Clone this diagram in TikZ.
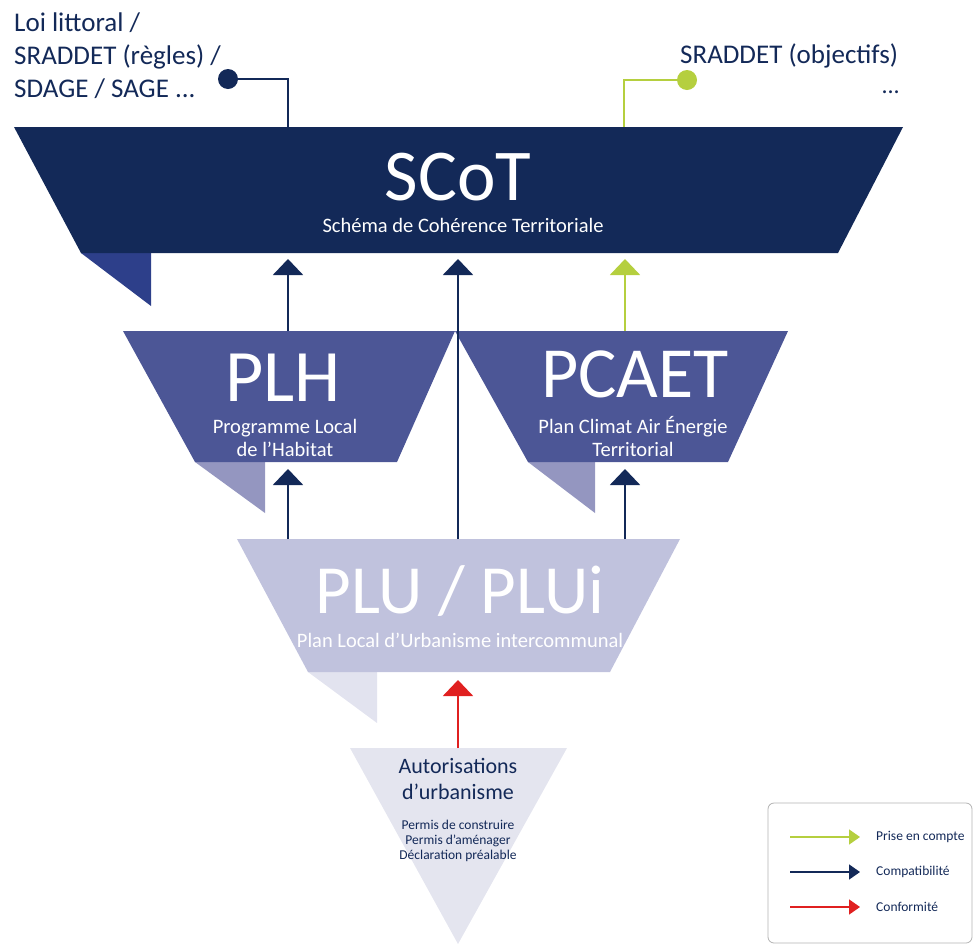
\documentclass[tikz,border=0pt]{standalone}
\usepackage{fontspec}
\setmainfont{Carlito}
\usetikzlibrary{arrows.meta}
\definecolor{navy}{RGB}{19,41,88}
\definecolor{scotflap}{RGB}{45,63,138}
\definecolor{midblue}{RGB}{76,86,150}
\definecolor{midflap}{RGB}{148,150,192}
\definecolor{paleblue}{RGB}{192,194,221}
\definecolor{paleflap}{RGB}{226,227,239}
\definecolor{autfill}{RGB}{228,229,239}
\definecolor{limegreen}{RGB}{181,207,63}
\definecolor{redarrow}{RGB}{224,32,32}

\begin{document}
\begin{tikzpicture}[x=1pt,y=-1pt,
  link/.style={line width=2pt},
  bigtip/.style={-{Triangle[length=16pt,width=30pt]}},
  smalltip/.style={line width=1.5pt,-{Triangle[length=11pt,width=15pt]}},
  title/.style={text=white,inner sep=0pt,anchor=base},
  sub/.style={text=white,inner sep=0pt,align=center,font=\fontsize{20.5}{23}\selectfont},
  legtext/.style={text=navy,anchor=west,inner sep=0pt,font=\fontsize{13.5}{14}\selectfont}]
\useasboundingbox (0,0) rectangle (978,946);

% SCoT
\coordinate (S1) at (14,127);
\coordinate (S2) at (903,127);
\coordinate (S3) at (838,253);
\coordinate (S4) at (81,253);
\coordinate (S5) at (151,253);
\coordinate (S6) at (151,306);
\fill[scotflap] (S4) -- (S5) -- (S6) -- cycle;
\fill[navy] (S1) -- (S2) -- (S3) -- (S4) -- cycle;

% PLH
\coordinate (H1) at (123,331);
\coordinate (H2) at (455,331);
\coordinate (H3) at (397,462);
\coordinate (H4) at (195,462);
\coordinate (H5) at (265,462);
\coordinate (H6) at (265,513);
\fill[midflap] (H4) -- (H5) -- (H6) -- cycle;
\fill[midblue] (H1) -- (H2) -- (H3) -- (H4) -- cycle;

% PCAET
\coordinate (P1) at (455,331);
\coordinate (P2) at (788,331);
\coordinate (P3) at (728,462);
\coordinate (P4) at (528,462);
\coordinate (P5) at (595,462);
\coordinate (P6) at (595,513);
\fill[midflap] (P4) -- (P5) -- (P6) -- cycle;
\fill[midblue] (P1) -- (P2) -- (P3) -- (P4) -- cycle;

% PLU / PLUi
\coordinate (U1) at (237,539);
\coordinate (U2) at (680,539);
\coordinate (U3) at (610,672);
\coordinate (U4) at (308,672);
\coordinate (U5) at (377,672);
\coordinate (U6) at (377,723);
\fill[paleflap] (U4) -- (U5) -- (U6) -- cycle;
\fill[paleblue] (U1) -- (U2) -- (U3) -- (U4) -- cycle;

% Autorisations
\coordinate (A1) at (350,748);
\coordinate (A2) at (567,748);
\coordinate (A3) at (458,944);
\fill[autfill] (A1) -- (A2) -- (A3) -- cycle;

% texts
\node[title,font=\fontsize{73}{73}\selectfont] (scot) at (458,200) {SCoT};
\node[sub] (scotsub) at (463,225) {Schéma de Cohérence Territoriale};
\node[title,font=\fontsize{74}{74}\selectfont] (plh) at (283,401) {PLH};
\node[sub] (plhsub) at (285,438) {Programme Local\\de l’Habitat};
\node[title,font=\fontsize{72}{72}\selectfont] (pcaet) at (635,397) {PCAET};
\node[sub] (pcaetsub) at (633,437) {Plan Climat Air Énergie\\Territorial};
\node[title,font=\fontsize{69}{69}\selectfont] (plu) at (460,613) {PLU / PLUi};
\node[sub] (plusub) at (460,640) {Plan Local d’Urbanisme intercommunal};
\node[text=navy,inner sep=0pt,align=center,font=\fontsize{22}{26}\selectfont] (aut) at (458,779) {Autorisations\\d’urbanisme};
\node[text=navy,inner sep=0pt,align=center,font=\fontsize{13.5}{15}\selectfont] (autsub) at (458,841) {Permis de construire\\Permis d’aménager\\Déclaration préalable};

\node[text=navy,inner sep=0pt,anchor=north west,align=left,font=\fontsize{27}{33}\selectfont] (loi) at (14,13) {Loi littoral /\\SRADDET (règles) /\\SDAGE / SAGE ...};
\node[text=navy,inner sep=0pt,anchor=base west,font=\fontsize{27}{27}\selectfont] (obj) at (680,63) {SRADDET (objectifs)};
\node[text=navy,inner sep=0pt,anchor=base east,font=\fontsize{24}{24}\selectfont] (etc) at (900,93) {...};

% external links
\coordinate (d1) at (228,79);
\coordinate (c1) at (288,79);
\coordinate (t1) at (288,127);
\coordinate (d2) at (687,80);
\coordinate (c2) at (624,80);
\coordinate (t2) at (624,127);
\draw[link,navy] (d1) -- (c1) -- (t1);
\fill[navy] (d1) circle (10);
\draw[link,limegreen] (d2) -- (c2) -- (t2);
\fill[limegreen] (d2) circle (10);

% arrows between levels
\coordinate (plhtop) at (288,331);
\coordinate (plhin) at (288,469);
\coordinate (pcaettop) at (625,331);
\coordinate (pcaetin) at (625,469);
\coordinate (scotin1) at (288,259);
\coordinate (scotin2) at (458,259);
\coordinate (scotin3) at (625,259);
\coordinate (plutop1) at (288,539);
\coordinate (plutop2) at (458,539);
\coordinate (plutop3) at (625,539);
\coordinate (pluin) at (458,680);
\coordinate (auttop) at (458,748);
\draw[link,bigtip,navy] (plhtop) -- (scotin1);
\draw[link,bigtip,navy] (plutop2) -- (scotin2);
\draw[link,bigtip,limegreen] (pcaettop) -- (scotin3);
\draw[link,bigtip,navy] (plutop1) -- (plhin);
\draw[link,bigtip,navy] (plutop3) -- (pcaetin);
\draw[link,bigtip,redarrow] (auttop) -- (pluin);

% legend
\draw[gray!60,line width=0.8pt,rounded corners=6] (768,803) rectangle (972,943);
\coordinate (lg1) at (790,837);
\coordinate (lh1) at (860,837);
\coordinate (lg2) at (790,872);
\coordinate (lh2) at (860,872);
\coordinate (lg3) at (790,907);
\coordinate (lh3) at (860,907);
\draw[smalltip,limegreen] (lg1) -- (lh1);
\draw[smalltip,navy] (lg2) -- (lh2);
\draw[smalltip,redarrow] (lg3) -- (lh3);
\node[legtext] (prise) at (876,837) {Prise en compte};
\node[legtext] (compat) at (876,872) {Compatibilité};
\node[legtext] (conf) at (876,907) {Conformité};
\end{tikzpicture}
\end{document}
